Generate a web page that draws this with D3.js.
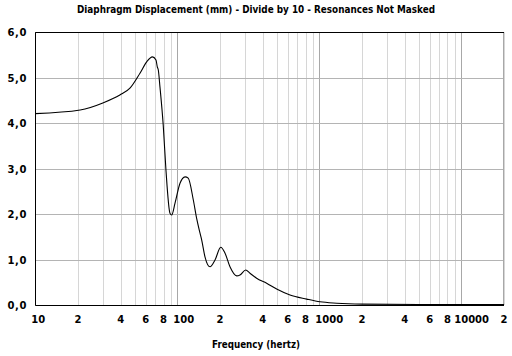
<!DOCTYPE html>
<html><head><meta charset="utf-8">
<script src="https://cdn.jsdelivr.net/npm/d3@7"></script>
<style>
body{margin:0;background:#fff;}
text{font-family:"DejaVu Sans",sans-serif;font-weight:bold;fill:#000;}
</style></head>
<body><svg id="c" width="512" height="356"></svg>
<script>
const title = "Diaphragm Displacement (mm) - Divide by 10 - Resonances Not Masked";
const xTitle = "Frequency (hertz)";
const freqs = [10,20.7,30.2,39.4,46.4,54.6,60.9,66.8,70.8,72.3,73.5,75.5,79.6,83.2,88.8,91.3,96.4,104.5,113.4,119.4,129.7,137,144.6,148.6,156.7,170,184.4,202.3,216.9,235,262,276.5,303.3,325,362,426,501,622,815,1012,1327,2000,5000,20000];
const disp  = [4.21,4.29,4.45,4.62,4.77,5.10,5.35,5.46,5.39,5.24,5.17,4.80,3.96,2.97,2.02,1.98,2.24,2.68,2.82,2.79,2.31,1.90,1.58,1.43,1.06,0.84,0.99,1.27,1.14,0.84,0.64,0.66,0.77,0.70,0.59,0.48,0.35,0.22,0.13,0.07,0.04,0.02,0.01,0.01];
const yTicks = [0,1,2,3,4,5,6];
const yTickLabels = ["0,0","1,0","2,0","3,0","4,0","5,0","6,0"];
const xTicks = [10,20,40,60,80,100,200,400,600,800,1000,2000,4000,6000,8000,10000,20000];
const xTickLabels = ["10","2","4","6","8","100","2","4","6","8","1000","2","4","6","8","10000","2"];
const xMinor = [];
[10,100,1000,10000].forEach(d=>{for(let k=1;k<10;k++){const v=d*k; if(v<=20000) xMinor.push(v);}});

const svg = d3.select("#c");
const L=35.3,R=504,T=32.3,B=305;
const x = d3.scaleLog().domain([10,20000]).range([L,R]);
const y = d3.scaleLinear().domain([0,6]).range([B,T]);

svg.append("g").selectAll("line").data(xMinor.filter(v=>![10,100,1000,10000].includes(v)))
  .join("line").attr("x1",d=>Math.round(x(d))+0.5).attr("x2",d=>Math.round(x(d))+0.5)
  .attr("y1",T).attr("y2",B).attr("stroke","#d6d6d6").attr("stroke-width",1);
svg.append("g").selectAll("line").data([100,1000,10000])
  .join("line").attr("x1",d=>Math.round(x(d))+0.5).attr("x2",d=>Math.round(x(d))+0.5)
  .attr("y1",T).attr("y2",B).attr("stroke","#a8a8a8").attr("stroke-width",1);
svg.append("g").selectAll("line").data(yTicks.slice(1,6))
  .join("line").attr("y1",d=>Math.round(y(d))+0.5).attr("y2",d=>Math.round(y(d))+0.5)
  .attr("x1",L).attr("x2",R).attr("stroke","#b4b4b4").attr("stroke-width",1);

svg.append("line").attr("x1",R-0.5).attr("x2",R-0.5).attr("y1",T).attr("y2",B).attr("stroke","#a8a8a8");
svg.append("line").attr("x1",L).attr("x2",R).attr("y1",Math.round(T)+0.5).attr("y2",Math.round(T)+0.5).attr("stroke","#000");
svg.append("line").attr("x1",Math.round(L)+0.5).attr("x2",Math.round(L)+0.5).attr("y1",T).attr("y2",B+0.5).attr("stroke","#000");

const pts = freqs.map((f,i)=>[f,disp[i]]);
svg.append("path").datum(pts)
  .attr("d", d3.line().x(d=>x(d[0])).y(d=>y(d[1])).curve(d3.curveMonotoneX))
  .attr("fill","none").attr("stroke","#000").attr("stroke-width",1.1);

svg.append("line").attr("x1",L).attr("x2",R).attr("y1",Math.round(B)+0.5).attr("y2",Math.round(B)+0.5).attr("stroke","#000");

svg.append("g").selectAll("text").data(yTicks).join("text")
  .attr("x",27).attr("y",d=>y(d)+4).attr("text-anchor","end")
  .attr("font-size",10).attr("letter-spacing",0.6)
  .text((d,i)=>yTickLabels[i]);

svg.append("g").selectAll("text").data(xTicks).join("text")
  .attr("x",(d,i)=>{
    const lab=xTickLabels[i];
    if(lab.length===1) return x(d);
    if(lab.length>=5) return x(d)-7;
    return x(d)-4;
  })
  .attr("y",323).attr("text-anchor",(d,i)=>xTickLabels[i].length===1?"middle":"start")
  .attr("font-size",10)
  .text((d,i)=>xTickLabels[i]);

svg.append("text").attr("x",256).attr("y",13).attr("text-anchor","middle")
  .attr("font-family","Liberation Sans").attr("font-size",10.5)
  .attr("textLength",358).attr("lengthAdjust","spacingAndGlyphs").text(title);
svg.append("text").attr("x",256).attr("y",348).attr("text-anchor","middle")
  .attr("font-family","Liberation Sans").attr("font-size",10.5)
  .attr("textLength",88).attr("lengthAdjust","spacingAndGlyphs").text(xTitle);
</script></body></html>
